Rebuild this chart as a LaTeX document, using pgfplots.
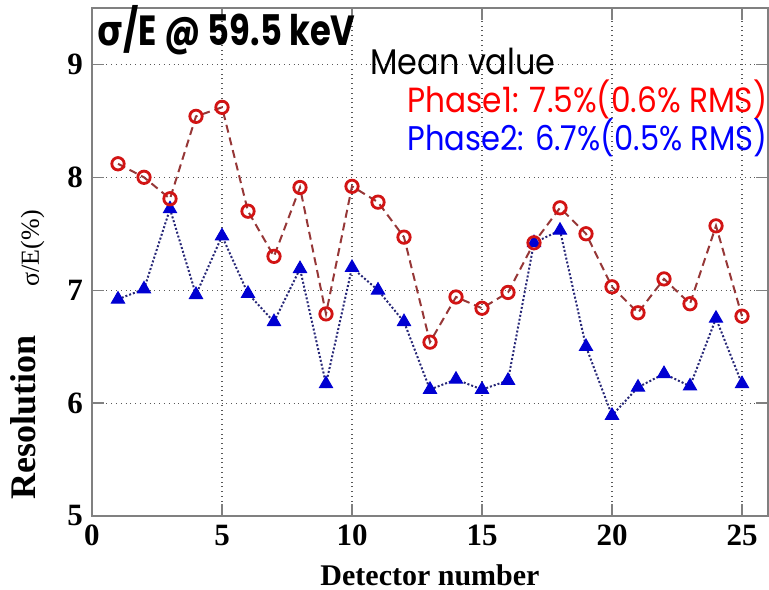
\documentclass[border=0pt]{standalone}
\usepackage{pgfplots}
\pgfplotsset{compat=1.18}
\usepackage{fontspec}
\setmainfont{Liberation Serif}
\newfontfamily\gothic{Poppins}
\newfontfamily\dejavu{DejaVu Sans}
\usetikzlibrary{calc}
\definecolor{pred}{RGB}{210,20,20}
\definecolor{pblue}{RGB}{0,0,210}
\definecolor{lred}{RGB}{150,55,55}
\definecolor{lblue}{RGB}{40,40,120}
\begin{document}
\begin{tikzpicture}
\begin{axis}[name=ax, scale only axis, width=338pt, height=254pt,
  xmin=0, xmax=26, ymin=5, ymax=9.5,
  xtick={0,5,...,25}, ytick={5,6,7,8,9},
  grid=major, major grid style={dotted, black!65, line width=0.6pt},
  axis line style={black!50, line width=0.9pt},
  tick style={black!50, line width=0.7pt}, tick align=inside, major tick length=6pt,
  ticklabel style={font=\fontsize{15.5}{16}\selectfont\bfseries},
  /pgf/number format/assume math mode=true,
  xticklabel style={yshift=-1pt}, yticklabel style={xshift=-1pt},
  clip=false]
\addplot[lblue, densely dotted, line width=1pt, mark=triangle*, mark size=3.8pt, mark options={solid, pblue, line width=0.5pt}] coordinates {
(1,6.92) (2,7.01) (3,7.72) (4,6.96) (5,7.48) (6,6.97) (7,6.72) (8,7.19) (9,6.17) (10,7.20)
(11,7.00) (12,6.72) (13,6.12) (14,6.21) (15,6.12) (16,6.20) (17,7.42) (18,7.53) (19,6.50) (20,5.89)
(21,6.14) (22,6.26) (23,6.15) (24,6.75) (25,6.17)};
\addplot[lred, dash pattern=on 4pt off 2.5pt, line width=1pt, mark=o, mark size=3.1pt, mark options={solid, pred, line width=1.4pt}] coordinates {
(1,8.12) (2,8.00) (3,7.81) (4,8.54) (5,8.62) (6,7.70) (7,7.30) (8,7.91) (9,6.79) (10,7.92)
(11,7.78) (12,7.47) (13,6.54) (14,6.94) (15,6.84) (16,6.98) (17,7.42) (18,7.73) (19,7.50) (20,7.03)
(21,6.80) (22,7.10) (23,6.88) (24,7.57) (25,6.77)};
\node[anchor=base west, inner sep=0] at (rel axis cs:0,1) [xshift=2.5pt, yshift=-19pt]
  {\scalebox{1}[1.25]{\resizebox{129pt}{!}{\gothic\bfseries{\dejavu\bfseries σ}/E @ 59.5 keV}}};
\node[anchor=base west, inner sep=0] at (rel axis cs:0,1) [xshift=139pt, yshift=-33.5pt]
  {\scalebox{1}[1.12]{\resizebox{92.5pt}{!}{\gothic Mean value}}};
\node[anchor=base west, inner sep=0, text=red] at (rel axis cs:0,1) [xshift=157.5pt, yshift=-52.5pt]
  {\scalebox{1}[1.12]{\resizebox{180pt}{!}{\gothic Phase1: 7.5\%(0.6\% RMS)}}};
\node[anchor=base west, inner sep=0, text=blue] at (rel axis cs:0,1) [xshift=157.5pt, yshift=-71.5pt]
  {\scalebox{1}[1.12]{\resizebox{180pt}{!}{\gothic Phase2: 6.7\%(0.5\% RMS)}}};
\node[xshift=-28pt, rotate=90, anchor=base west, inner sep=0] at (axis cs:0,5.14)
  {\fontsize{18}{18}\selectfont\bfseries Resolution};
\node[xshift=-26.5pt, rotate=90, anchor=base west, inner sep=0] at (axis cs:0,7.03)
  {\fontsize{13}{13}\selectfont σ/E(\%)};
\node[anchor=base, inner sep=0] at (rel axis cs:0.5,0) [yshift=-35pt]
  {\fontsize{15}{15}\selectfont\bfseries Detector number};
\end{axis}
\pgfresetboundingbox
\path ($(ax.south west)+(-46pt,-37pt)$) rectangle ($(ax.north east)+(0.5pt,4pt)$);
\end{tikzpicture}
\end{document}
